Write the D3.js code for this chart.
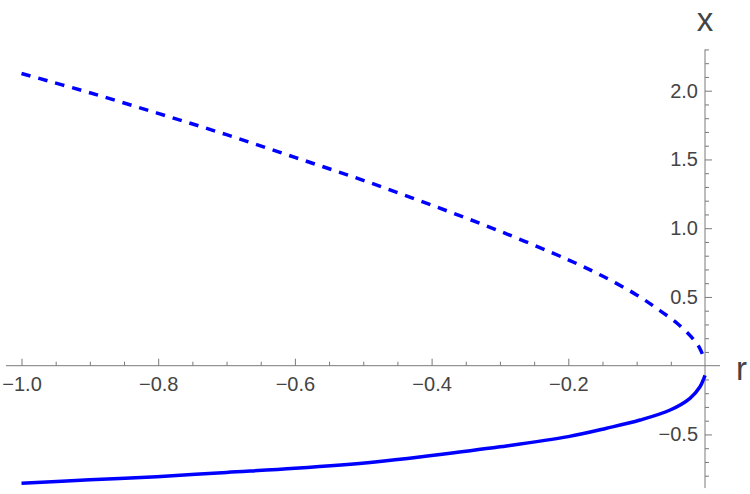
<!DOCTYPE html>
<html>
<head>
<meta charset="utf-8">
<script src="https://cdn.jsdelivr.net/npm/d3@7"></script>
<style>
  html, body { margin: 0; padding: 0; background: #fff; }
  svg { display: block; }
  text { font-family: "Liberation Sans", Arial, sans-serif; }
</style>
</head>
<body>
<script>
// ---- data ----
const rTickLabels = [-1.0, -0.8, -0.6, -0.4, -0.2];
const rMinorTicks = [-0.95, -0.9, -0.85, -0.75, -0.7, -0.65, -0.55, -0.5, -0.45, -0.35, -0.3, -0.25, -0.15, -0.1, -0.05];
const xTickLabels = [-0.5, 0.5, 1.0, 1.5, 2.0];
const xMinorTicks = [-0.8, -0.7, -0.6, -0.4, -0.3, -0.2, -0.1, 0.1, 0.2, 0.3, 0.4, 0.6, 0.7, 0.8, 0.9, 1.1, 1.2, 1.3, 1.4, 1.6, 1.7, 1.8, 1.9, 2.1, 2.2, 2.3];

// unstable branch (dashed)
const unstableR = [-1.0, -0.9, -0.8, -0.7, -0.6, -0.5, -0.4, -0.3, -0.2, -0.15, -0.1, -0.07, -0.04, -0.02, -0.008, -0.002];
const unstableX = [2.125, 1.985, 1.835, 1.68, 1.515, 1.348, 1.168, 0.978, 0.77, 0.652, 0.515, 0.415, 0.305, 0.21, 0.13, 0.06];

// stable branch (solid)
const stableR = [-1.0, -0.9, -0.802, -0.7, -0.6, -0.483, -0.4, -0.3, -0.2, -0.144, -0.095, -0.051, -0.022, -0.0073, -0.0015, 0];
const stableX = [-0.855, -0.83, -0.807, -0.776, -0.746, -0.70, -0.653, -0.59, -0.516, -0.455, -0.395, -0.322, -0.237, -0.153, -0.09, -0.07];

// ---- layout ----
const W = 750, H = 494;
const sx = d3.scaleLinear().domain([-1, 0]).range([21.5, 705]);
const sy = d3.scaleLinear().domain([0, 2]).range([365.7, 90.7]);

const svg = d3.select("body").append("svg").attr("width", W).attr("height", H);
svg.append("rect").attr("width", W).attr("height", H).attr("fill", "#fff");

const axisColor = "#7a7a7a";
const textColor = "#444";

// x axis (horizontal, at x = 0)
const xAxisG = svg.append("g").attr("transform", `translate(0,${sy(0)})`);
xAxisG.append("line")
  .attr("x1", sx(-1.0227)).attr("x2", sx(0.022))
  .attr("y1", 0).attr("y2", 0)
  .attr("stroke", axisColor).attr("stroke-width", 1);
const xMajor = xAxisG.append("g").call(d3.axisTop(sx).tickValues(rTickLabels).tickSize(7).tickFormat(""));
const xMinor = xAxisG.append("g").call(d3.axisTop(sx).tickValues(rMinorTicks).tickSize(4).tickFormat(""));
const xLab = xAxisG.append("g").call(d3.axisBottom(sx).tickValues(rTickLabels).tickSize(0).tickPadding(11).tickFormat(d3.format(".1f")));
[xMajor, xMinor, xLab].forEach(g => {
  g.select(".domain").remove();
  g.selectAll("line").attr("stroke", axisColor);
  g.selectAll("text").attr("fill", textColor).style("font-size", "20px")
    .style("font-family", '"Liberation Sans", Arial, sans-serif');
});

// y axis (vertical, at r = 0)
const yAxisG = svg.append("g").attr("transform", `translate(${sx(0)},0)`);
yAxisG.append("line")
  .attr("x1", 0).attr("x2", 0)
  .attr("y1", sy(2.30)).attr("y2", sy(-0.89))
  .attr("stroke", axisColor).attr("stroke-width", 1);
const yMajor = yAxisG.append("g").call(d3.axisRight(sy).tickValues(xTickLabels).tickSize(7).tickFormat(""));
const yMinor = yAxisG.append("g").call(d3.axisRight(sy).tickValues(xMinorTicks).tickSize(4).tickFormat(""));
const yLab = yAxisG.append("g").call(d3.axisLeft(sy).tickValues(xTickLabels).tickSize(0).tickPadding(7).tickFormat(d3.format(".1f")));
[yMajor, yMinor, yLab].forEach(g => {
  g.select(".domain").remove();
  g.selectAll("line").attr("stroke", axisColor);
  g.selectAll("text").attr("fill", textColor).style("font-size", "20px")
    .style("font-family", '"Liberation Sans", Arial, sans-serif');
});

// axis labels
svg.append("text").text("r")
  .attr("x", 736).attr("y", 380)
  .attr("fill", textColor).style("font-size", "33px");
svg.append("text").text("x")
  .attr("x", sx(0)).attr("y", 30.5).attr("text-anchor", "middle")
  .attr("fill", textColor).style("font-size", "33px");

// curves
const line = d3.line().x(d => sx(d[0])).y(d => sy(d[1])).curve(d3.curveCatmullRom.alpha(0.5));
const unstable = unstableR.map((r, i) => [r, unstableX[i]]);
const stable = stableR.map((r, i) => [r, stableX[i]]);

svg.append("path").datum(unstable).attr("d", line)
  .attr("fill", "none").attr("stroke", "#0000ff").attr("stroke-width", 3.5)
  .attr("stroke-dasharray", "9.5,8");
svg.append("path").datum(stable).attr("d", line)
  .attr("fill", "none").attr("stroke", "#0000ff").attr("stroke-width", 3.5);
</script>
</body>
</html>
